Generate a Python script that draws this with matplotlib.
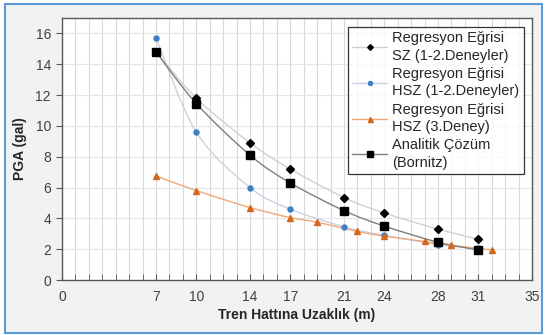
import numpy as np
import matplotlib
matplotlib.use('Agg')
import matplotlib.pyplot as plt
from matplotlib.path import Path
from matplotlib.patches import PathPatch, Rectangle
from matplotlib.lines import Line2D

plt.rcParams['font.family'] = ['Liberation Sans', 'DejaVu Sans']

# data
x_sz = [7, 10, 14, 17, 21, 24, 28, 31]
y_sz = [14.8, 11.8, 8.9, 7.2, 5.35, 4.35, 3.3, 2.65]

x_hsz = [7, 10, 14, 17, 21, 24, 28, 31]
y_hsz = [15.7, 9.6, 6.0, 4.6, 3.45, 2.9, 2.3, 2.05]

x_hsz3 = [7, 10, 14, 17, 19, 22, 24, 27, 29, 32]
y_hsz3 = [6.75, 5.8, 4.7, 4.05, 3.75, 3.15, 2.85, 2.5, 2.25, 1.95]

x_an = [7, 10, 14, 17, 21, 24, 28, 31]
y_an = [14.8, 11.45, 8.1, 6.3, 4.5, 3.5, 2.45, 1.95]

labels = ['Regresyon Eğrisi\nSZ (1-2.Deneyler)',
          'Regresyon Eğrisi\nHSZ (1-2.Deneyler)',
          'Regresyon Eğrisi\nHSZ (3.Deney)',
          'Analitik Çözüm\n(Bornitz)']
xticks = [0, 7, 10, 14, 17, 21, 24, 28, 31, 35]


def smooth_path(xs, ys, t=1/6):
    # Excel-like smoothed line: Catmull-Rom segments as cubic Beziers
    pts = np.column_stack([xs, ys]).astype(float)
    verts = [pts[0]]
    codes = [Path.MOVETO]
    n = len(pts)
    for i in range(n - 1):
        p0 = pts[max(i - 1, 0)]
        p1 = pts[i]
        p2 = pts[i + 1]
        p3 = pts[min(i + 2, n - 1)]
        c1 = p1 + (p2 - p0) * t
        c2 = p2 - (p3 - p1) * t
        verts += [c1, c2, p2]
        codes += [Path.CURVE4] * 3
    return Path(verts, codes)


fig = plt.figure(figsize=(5.46, 3.35), dpi=100, facecolor='white')
fig.patches.append(Rectangle((5 / 546, 2 / 335), 537 / 546, 329 / 335, transform=fig.transFigure,
                             facecolor='#f2f2f2', edgecolor='#5b9bd5', linewidth=1.5,
                             zorder=-10))
ax = fig.add_axes([62 / 546, 55 / 335, 470 / 546, 262 / 335])
ax.set_facecolor('white')

series = [
    (x_sz, y_sz, '#d0d0d0', 'D', 'black', 3.6),
    (x_hsz, y_hsz, '#c8d2e2', 'o', '#3f7fc4', 3.6),
    (x_hsz3, y_hsz3, '#f0a878', '^', '#d2691e', 4.5),
    (x_an, y_an, '#7f7f7f', 's', 'black', 5.5),
]
handles = []
for xs, ys, lc, mk, mc, ms in series:
    ax.add_patch(PathPatch(smooth_path(xs, ys), facecolor='none', edgecolor=lc,
                           linewidth=1.0, zorder=3))
    ax.plot(xs, ys, linestyle='none', marker=mk, color=mc, markersize=ms, zorder=4)
    handles.append(Line2D([], [], color=lc, linewidth=1.0, marker=mk, markerfacecolor=mc,
                          markeredgecolor=mc, markersize=ms * 0.8))

ax.set_xlim(0, 35)
ax.set_ylim(0, 17)
ax.set_xticks(xticks)
ax.set_xticks(np.arange(0, 36, 1), minor=True)
ax.set_yticks(np.arange(0, 17, 2))
ax.grid(True, which='both', axis='x', color='#d9d9d9', linewidth=0.8)
ax.grid(True, which='major', axis='y', color='#e6e6e6', linewidth=0.8)
ax.set_axisbelow(True)
ax.tick_params(axis='x', which='both', direction='in', length=4, color='#595959',
               labelsize=10, labelcolor='#404040', pad=7)
ax.tick_params(axis='y', which='major', direction='out', length=4, color='#595959',
               labelsize=10, labelcolor='#404040', pad=4)
for s in ax.spines.values():
    s.set_color('#595959')
    s.set_linewidth(1.0)

ax.set_xlabel('Tren Hattına Uzaklık (m)', fontsize=10, fontweight='bold', color='#262626',
              labelpad=3)
ax.set_ylabel('PGA (gal)', fontsize=10, fontweight='bold', color='#262626', labelpad=6)

leg = ax.legend(handles, labels, loc='upper left',
                bbox_to_anchor=((348 - 62) / 470, (280 - 27) / 262),
                prop={'size': 10.5}, frameon=True, fancybox=False, edgecolor='black',
                handlelength=2.4, labelspacing=0.3, borderpad=0.3, handletextpad=0.35,
                borderaxespad=0)
leg.get_frame().set_linewidth(0.9)
for t in leg.get_texts():
    t.set_color('#262626')
    t.set_linespacing(1.3)

fig.savefig('out.png', dpi=100, facecolor=fig.get_facecolor())
